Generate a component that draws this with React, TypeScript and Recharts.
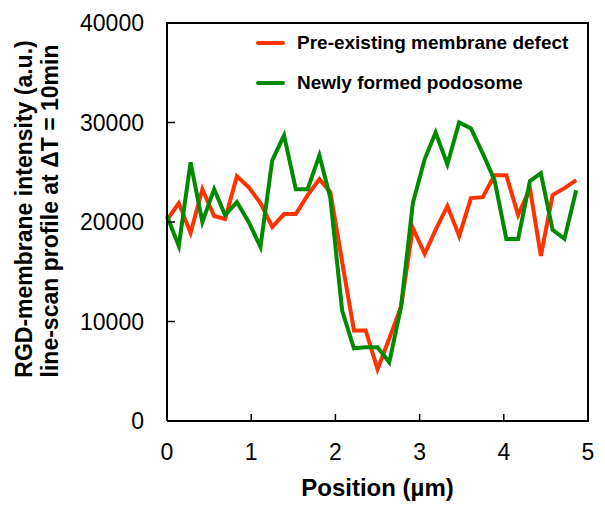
import React from "react";
import { LineChart, Line, XAxis, YAxis } from "recharts";

const positions = [0, 0.14, 0.28, 0.42, 0.56, 0.69, 0.83, 0.97, 1.11, 1.25, 1.39, 1.53, 1.67, 1.81, 1.94, 2.08, 2.22, 2.36, 2.5, 2.64, 2.78, 2.92, 3.06, 3.19, 3.33, 3.47, 3.61, 3.75, 3.89, 4.03, 4.17, 4.31, 4.44, 4.58, 4.72, 4.86];
const preExisting = [20200, 21900, 18900, 23300, 20600, 20300, 24600, 23500, 21900, 19500, 20800, 20800, 22700, 24300, 23000, 16000, 9100, 9100, 5200, 8300, 11500, 19400, 16800, 19200, 21600, 18600, 22400, 22500, 24700, 24700, 20700, 23400, 16600, 22700, 23400, 24200];
const newlyFormed = [20600, 17600, 26000, 20000, 23300, 20700, 22000, 20000, 17500, 26200, 28700, 23300, 23300, 26700, 22400, 11100, 7300, 7400, 7400, 5900, 11500, 21900, 26300, 29000, 25800, 30000, 29400, 26900, 24200, 18300, 18300, 24100, 24900, 19200, 18300, 23200];
const xTicks = [0, 1, 2, 3, 4, 5];
const yTicks = [0, 10000, 20000, 30000, 40000];
const xDomain = [0, 5];
const yDomain = [0, 40000];
const seriesNames = ["Pre-existing membrane defect", "Newly formed podosome"];
const RED = "#ff3300";
const GREEN = "#008a00";
const FONT = "'Liberation Sans', Arial, sans-serif";

const data = positions.map((p, i) => ({ x: p, pre: preExisting[i], newf: newlyFormed[i] }));
// plot frame (top and right edges) drawn through the axis scales from the domain corners
const frameData = [
  { x: xDomain[0], frame: yDomain[1] },
  { x: xDomain[1], frame: yDomain[1] },
  { x: xDomain[1], frame: yDomain[0] },
];

const XTick = (props: any) => {
  const { x, y, payload } = props;
  return (
    <g>
      <line x1={x} y1={y} x2={x} y2={y - 7} stroke="#000" strokeWidth={1.5} />
      <text x={x} y={y + 39} textAnchor="middle" fontSize={23} fontFamily={FONT} fill="#000">
        {payload.value}
      </text>
    </g>
  );
};

const YTick = (props: any) => {
  const { x, y, payload } = props;
  return (
    <g>
      <line x1={x} y1={y} x2={x + 8} y2={y} stroke="#000" strokeWidth={1.5} />
      <text x={x - 23} y={y + 8} textAnchor="end" fontSize={23} fontFamily={FONT} fill="#000">
        {payload.value}
      </text>
    </g>
  );
};

const LegendBox = () => (
  <div
    style={{
      position: "absolute",
      left: 255,
      top: 23,
      fontFamily: FONT,
      fontWeight: "bold",
      fontSize: 19,
      color: "#000",
    }}
  >
    {[RED, GREEN].map((c, i) => (
      <div key={i} style={{ display: "flex", alignItems: "center", height: 40 }}>
        <svg width={42} height={10} style={{ display: "block" }}>
          <line x1={3} y1={5} x2={28} y2={5} stroke={c} strokeWidth={4} strokeLinecap="round" />
        </svg>
        <span>{seriesNames[i]}</span>
      </div>
    ))}
  </div>
);

export default function App() {
  return (
    <div style={{ position: "absolute", left: 0, top: 0, width: 605, height: 508, background: "#fff" }}>
      <LineChart width={605} height={508} data={data} margin={{ top: 23, right: 17, left: 0, bottom: 0 }}>
        <XAxis
          dataKey="x"
          type="number"
          domain={xDomain}
          ticks={xTicks}
          height={87}
          tickSize={0}
          tickMargin={0}
          tickLine={false}
          axisLine={{ stroke: "#000", strokeWidth: 2 }}
          tick={<XTick />}
          interval={0}
          allowDuplicatedCategory={true}
          label={{
            content: () => (
              <text x={377.5} y={496} textAnchor="middle" fontSize={24} fontWeight="bold" fontFamily={FONT} fill="#000">
                Position (µm)
              </text>
            ),
          }}
        />
        <YAxis
          type="number"
          domain={yDomain}
          ticks={yTicks}
          width={167}
          tickSize={0}
          tickMargin={0}
          tickLine={false}
          axisLine={{ stroke: "#000", strokeWidth: 2 }}
          tick={<YTick />}
          interval={0}
          label={{
            content: () => (
              <g fontSize={23} fontWeight="bold" fontFamily={FONT} fill="#000">
                <text x={31.5} y={209} textAnchor="middle" transform="rotate(-90 31.5 209)">
                  RGD-membrane intensity (a.u.)
                </text>
                <text x={58} y={211} textAnchor="middle" transform="rotate(-90 58 211)">
                  line-scan profile at ΔT = 10min
                </text>
              </g>
            ),
          }}
        />
        <Line
          data={frameData}
          dataKey="frame"
          type="linear"
          stroke="#000"
          strokeWidth={2}
          dot={false}
          activeDot={false}
          legendType="none"
          isAnimationActive={false}
          strokeLinejoin="miter"
          strokeLinecap="square"
        />
        <Line dataKey="pre" name={seriesNames[0]} stroke={RED} strokeWidth={4} dot={false} isAnimationActive={false} strokeLinejoin="miter" />
        <Line dataKey="newf" name={seriesNames[1]} stroke={GREEN} strokeWidth={4} dot={false} isAnimationActive={false} strokeLinejoin="miter" />
      </LineChart>
      <LegendBox />
    </div>
  );
}
